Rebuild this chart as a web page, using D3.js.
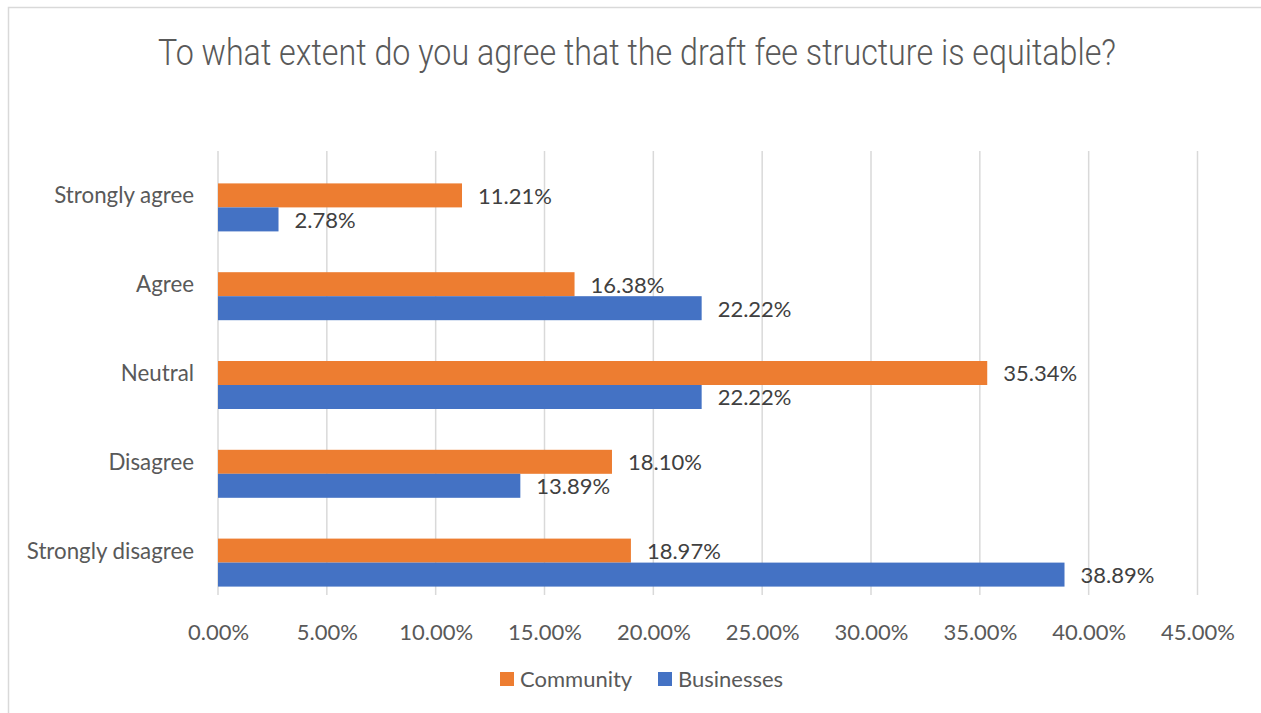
<!DOCTYPE html>
<html>
<head>
<meta charset="utf-8">
<script src="https://cdn.jsdelivr.net/npm/d3@7"></script>
<style>
  body { margin: 0; background: #fff; }
  text { font-family: Lato, "Open Sans", sans-serif; }
</style>
</head>
<body>
<div id="chart"></div>
<script>
var width = 1261,
    height = 713,
    margin = {top: 151, right: 63, bottom: 118, left: 218}
;

// Data
var categories = ['Strongly agree', 'Agree', 'Neutral', 'Disagree', 'Strongly disagree'];
var seriesNames = ['Community', 'Businesses'];
var community = [11.21, 16.38, 35.34, 18.10, 18.97];
var businesses = [2.78, 22.22, 22.22, 13.89, 38.89];
var xTicks = [0, 5, 10, 15, 20, 25, 30, 35, 40, 45];
var colors = ['#ED7D31', '#4472C4'];
var title = 'To what extent do you agree that the draft fee structure is equitable?';

var svg = d3.select('#chart')
    .append('svg')
    .attr('width', width)
    .attr('height', height)
;

// chart frame (only top and left edges visible)
svg.append('path')
    .attr('d', 'M8.5,' + height + 'V7.5H' + width)
    .attr('fill', 'none')
    .attr('stroke', '#d9d9d9')
    .attr('stroke-width', 1.5)
;

svg.append('text')
    .attr('x', 637)
    .attr('y', 65)
    .attr('text-anchor', 'middle')
    .attr('textLength', 958)
    .attr('lengthAdjust', 'spacingAndGlyphs')
    .style('font-family', 'Roboto, sans-serif')
    .style('font-weight', 300)
    .style('font-size', '37px')
    .style('fill', '#595959')
    .text(title)
;

var w = width - margin.left - margin.right,
    h = height - margin.top - margin.bottom;

var graph = svg.append('g')
    .attr('transform', 'translate(' + margin.left + ',' + margin.top + ')')
;

var x = d3.scaleLinear().domain([0, 45]).range([0, w - 0.5]);
var y0 = d3.scaleBand().domain(categories).range([0, h]);
// three slots per category like the original; the first slot stays empty
var y1 = d3.scaleBand()
    .domain(['_'].concat(seriesNames))
    .range([0, y0.bandwidth()])
    .paddingOuter(0.35)
;

// gridlines
graph.append('g')
    .selectAll('line')
    .data(xTicks)
    .enter()
    .append('line')
    .attr('x1', function(d) { return x(d); })
    .attr('x2', function(d) { return x(d); })
    .attr('y1', 0)
    .attr('y2', h)
    .attr('stroke', '#d9d9d9')
    .attr('stroke-width', 1.5)
;

// x axis labels
var xAxis = d3.axisBottom(x)
    .tickValues(xTicks)
    .tickSize(0)
    .tickPadding(29)
    .tickFormat(function(d) { return d.toFixed(2) + '%'; });

var gx = graph.append('g')
    .attr('transform', 'translate(0,' + h + ')')
    .call(xAxis);
gx.select('.domain').remove();
gx.selectAll('text')
    .style('font-family', 'Lato, sans-serif')
    .style('font-size', '22px')
    .style('fill', '#595959');

// category labels
var yAxis = d3.axisLeft(y0).tickSize(0).tickPadding(24);
var gy = graph.append('g').call(yAxis);
gy.select('.domain').remove();
gy.selectAll('text')
    .attr('dy', '0.36em')
    .style('font-family', 'Lato, sans-serif')
    .style('font-size', '22.3px')
    .style('fill', '#595959');

var rows = categories.map(function(c, i) {
    return {cat: c, values: [community[i], businesses[i]]};
});

var group = graph.selectAll('.cat')
    .data(rows)
    .enter()
    .append('g')
    .attr('class', 'cat')
    .attr('transform', function(d) { return 'translate(0,' + y0(d.cat) + ')'; })
;

var bar = group.selectAll('.bar')
    .data(function(d) {
        return d.values.map(function(v, j) { return {name: seriesNames[j], value: v, idx: j}; });
    })
    .enter()
    .append('g')
    .attr('class', 'bar')
;

bar.append('rect')
    .attr('x', x(0))
    .attr('y', function(d) { return y1(d.name); })
    .attr('width', function(d) { return x(d.value) - x(0); })
    .attr('height', y1.bandwidth())
    .attr('fill', function(d) { return colors[d.idx]; })
;

bar.append('text')
    .attr('x', function(d) { return x(d.value) + 16; })
    .attr('y', function(d) { return y1(d.name) + y1.bandwidth() / 2; })
    .attr('dy', '0.38em')
    .style('font-size', '22px')
    .style('fill', '#404040')
    .text(function(d) { return d.value.toFixed(2) + '%'; })
;

// legend
var legend = svg.append('g').attr('transform', 'translate(500,679)');
var li = legend.selectAll('.item')
    .data(seriesNames)
    .enter()
    .append('g')
    .attr('class', 'item')
    .attr('transform', function(d, i) { return 'translate(' + (i * 158) + ',0)'; })
;
li.append('rect')
    .attr('x', 0)
    .attr('y', -7)
    .attr('width', 14)
    .attr('height', 14)
    .attr('fill', function(d, i) { return colors[i]; });
li.append('text')
    .attr('x', 20)
    .attr('dy', '0.36em')
    .style('font-size', '22px')
    .style('fill', '#595959')
    .text(function(d) { return d; });
</script>
</body>
</html>
